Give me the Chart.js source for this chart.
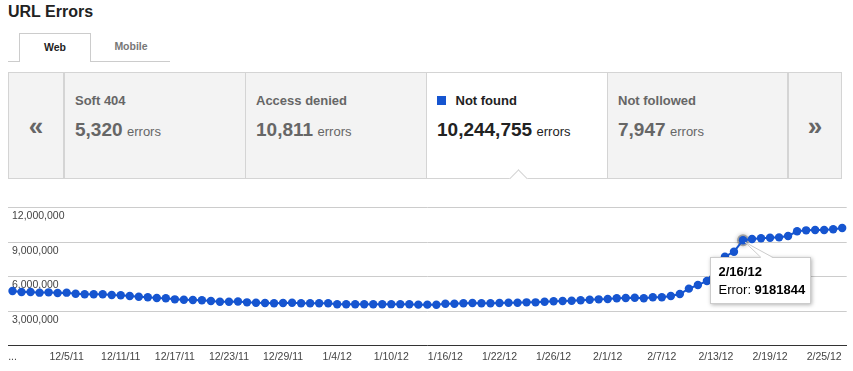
<!DOCTYPE html>
<html>
<head>
<meta charset="utf-8">
<title>URL Errors</title>
<script src="https://cdn.jsdelivr.net/npm/chart.js@4"></script>
<style>
  body { margin: 0; width: 853px; height: 371px; position: relative; overflow: hidden; background: #fff;
         font-family: "Liberation Sans", Arial, sans-serif; }
  h1 { position: absolute; left: 8px; top: 3px; margin: 0; font-size: 16px; line-height: 18px; color: #222; }
  .tabline { position: absolute; left: 8px; top: 61px; width: 162px; border-top: 1px solid #ccc; }
  .tab { position: absolute; top: 33px; height: 28px; line-height: 27px; font-size: 10.5px; font-weight: bold; text-align: center; }
  .tab.web { left: 19px; width: 70px; border: 1px solid #ccc; border-bottom: none; background: #fff; color: #222; z-index: 2; }
  .tab.mobile { left: 96px; width: 70px; color: #777; }
  .panel { position: absolute; left: 8px; top: 72px; width: 834px; height: 107px; box-sizing: border-box;
           border: 1px solid #d4d4d4; background: #f3f3f3; }
  .cell { position: absolute; top: 0; height: 105px; box-sizing: border-box; }
  .cell.card { border-left: 1px solid #d4d4d4; width: 181px; }
  .cell.sel { background: #fff; }
  .arrow { position: absolute; top: 38px; left: 0; width: 100%; text-align: center; font-size: 26px; line-height: 30px;
           font-weight: bold; color: #666; }
  .lbl { position: absolute; left: 10px; top: 20px; font-size: 13px; line-height: 15px; font-weight: bold; color: #666; white-space: nowrap; }
  .num { position: absolute; left: 10px; top: 46px; line-height: 22px; color: #666; white-space: nowrap; }
  .num b { font-size: 19px; }
  .num span { font-size: 13px; }
  .sel .lbl { left: 28.5px; color: #222; }
  .sel .num { color: #222; }
  .swatch { position: absolute; left: 10px; top: 23px; width: 9px; height: 9px; background: #1655d0; }
  .notch { position: absolute; left: 511.5px; top: 172px; width: 13px; height: 13px; box-sizing: border-box;
           border-top: 1px solid #d4d4d4; border-left: 1px solid #d4d4d4; background: #fff; transform: rotate(45deg); z-index: 3; }
  #chartBox { position: absolute; left: 0; top: 195px; width: 853px; height: 176px; }
</style>
</head>
<body>
<h1>URL Errors</h1>
<div class="tabline"></div>
<div class="tab web">Web</div>
<div class="tab mobile">Mobile</div>

<div class="panel">
  <div class="cell" style="left:0;width:55px;border-right:1px solid #d4d4d4;"><div class="arrow">«</div></div>
  <div class="cell card" style="left:55px;">
    <div class="lbl">Soft 404</div>
    <div class="num"><b>5,320</b> <span>errors</span></div>
  </div>
  <div class="cell card" style="left:236px;">
    <div class="lbl">Access denied</div>
    <div class="num"><b>10,811</b> <span>errors</span></div>
  </div>
  <div class="cell card sel" style="left:417px;">
    <div class="swatch"></div>
    <div class="lbl">Not found</div>
    <div class="num"><b>10,244,755</b> <span>errors</span></div>
  </div>
  <div class="cell card" style="left:598px;">
    <div class="lbl">Not followed</div>
    <div class="num"><b>7,947</b> <span>errors</span></div>
  </div>
  <div class="cell card" style="left:778px;width:54px;border-left:2px solid #d4d4d4;"><div class="arrow">»</div></div>
</div>
<div class="notch"></div>

<div id="chartBox"><canvas id="urlErrorsChart"></canvas></div>

<script>
// Not found errors, one point per report day (11/29/11 .. 2/27/12)
const notFound = [
  4770000, 4680000, 4680000, 4620000, 4650000, 4590000, 4620000, 4530000, 4480000, 4480000,
  4480000, 4420000, 4390000, 4330000, 4270000, 4220000, 4160000, 4130000, 4040000, 4010000,
  3980000, 3960000, 3900000, 3830000, 3830000, 3850000, 3780000, 3750000, 3720000, 3700000,
  3720000, 3740000, 3700000, 3700000, 3700000, 3700000, 3610000, 3610000, 3610000, 3610000,
  3610000, 3610000, 3620000, 3620000, 3610000, 3580000, 3580000, 3570000, 3660000, 3660000,
  3700000, 3720000, 3700000, 3700000, 3720000, 3750000, 3750000, 3780000, 3780000, 3830000,
  3870000, 3900000, 3920000, 3960000, 4010000, 4040000, 4070000, 4130000, 4160000, 4180000,
  4130000, 4220000, 4220000, 4330000, 4500000, 4970000, 5290000, 5630000, 6700000, 7750000,
  8180000, 9181844, 9290000, 9350000, 9400000, 9430000, 9550000, 9960000, 10040000, 10070000,
  10070000, 10130000, 10244755
];

// x-axis labels, one every 6 points starting with the first
const tickLabels = ['...', '12/5/11', '12/11/11', '12/17/11', '12/23/11', '12/29/11', '1/4/12',
  '1/10/12', '1/16/12', '1/22/12', '1/26/12', '2/1/12', '2/7/12', '2/13/12', '2/19/12', '2/25/12'];
const tickEvery = 6;

const yMax = 12000000;
const yStep = 3000000;

// highlighted point
const tipIndex = 81;
const tipDate = '2/16/12';
const tipName = 'Error:';

const blue = '#1655d0';
const fontFamily = '"Liberation Sans", Arial, sans-serif';

const categories = notFound.map((v, i) => (i % tickEvery === 0 ? tickLabels[i / tickEvery] : ''));

// halo under the hovered point + callout box on top
const tipPlugin = {
  id: 'tipCallout',
  beforeDatasetsDraw(chart) {
    const p = chart.getDatasetMeta(0).data[tipIndex];
    const ctx = chart.ctx;
    ctx.save();
    ctx.shadowColor = 'rgba(0,0,0,0.45)';
    ctx.shadowBlur = 4;
    ctx.fillStyle = 'rgba(110,110,110,0.55)';
    ctx.beginPath();
    ctx.arc(p.x, p.y, 6, 0, Math.PI * 2);
    ctx.fill();
    ctx.restore();
  },
  afterDraw(chart) {
    const p = chart.getDatasetMeta(0).data[tipIndex];
    const ctx = chart.ctx;
    const bx = Math.round(p.x - 33), by = Math.round(p.y + 17), bw = 101, bh = 47;

    ctx.save();
    ctx.shadowColor = 'rgba(0,0,0,0.3)';
    ctx.shadowBlur = 4;
    ctx.shadowOffsetX = 1;
    ctx.shadowOffsetY = 1;
    ctx.fillStyle = '#fff';
    ctx.fillRect(bx, by, bw, bh);
    ctx.restore();

    ctx.save();
    ctx.strokeStyle = '#ccc';
    ctx.lineWidth = 1;
    ctx.strokeRect(bx + 0.5, by + 0.5, bw - 1, bh - 1);

    // callout pointer
    ctx.fillStyle = '#fff';
    ctx.beginPath();
    ctx.moveTo(p.x + 18, by + 1);
    ctx.lineTo(p.x + 2, p.y + 2);
    ctx.lineTo(p.x + 30, by + 1);
    ctx.closePath();
    ctx.fill();
    ctx.beginPath();
    ctx.moveTo(p.x + 18, by + 0.5);
    ctx.lineTo(p.x + 2, p.y + 2);
    ctx.lineTo(p.x + 30, by + 0.5);
    ctx.stroke();

    ctx.fillStyle = '#000';
    ctx.textBaseline = 'middle';
    ctx.font = 'bold 13px ' + fontFamily;
    ctx.fillText(tipDate, bx + 8.5, by + 15.5);
    ctx.font = '13px ' + fontFamily;
    ctx.fillText(tipName + ' ', bx + 8.5, by + 33);
    const w = ctx.measureText(tipName + ' ').width;
    ctx.font = 'bold 13px ' + fontFamily;
    ctx.fillText(String(notFound[tipIndex]), bx + 8.5 + w, by + 33);
    ctx.restore();
  }
};

Chart.defaults.font.family = fontFamily;

const ctx = document.getElementById('urlErrorsChart').getContext('2d');
new Chart(ctx, {
  type: 'line',
  data: {
    labels: categories,
    datasets: [{
      label: 'Not found',
      data: notFound,
      borderColor: blue,
      borderWidth: 2,
      pointRadius: 4.2,
      pointHoverRadius: 4.2,
      pointBackgroundColor: blue,
      pointBorderWidth: 0,
      tension: 0,
      fill: false
    }]
  },
  options: {
    responsive: true,
    maintainAspectRatio: false,
    animation: false,
    events: [],
    layout: { padding: { left: 0, right: 6.3, top: 12.8, bottom: 2.6 } },
    plugins: {
      legend: { display: false },
      tooltip: { enabled: false }
    },
    scales: {
      x: {
        offset: true,
        grid: { display: false, drawTicks: false },
        border: { display: true, color: '#333', width: 1 },
        ticks: {
          autoSkip: false,
          maxRotation: 0,
          minRotation: 0,
          padding: 5,
          color: '#444',
          font: { size: 10.5 }
        }
      },
      y: {
        min: 0,
        max: yMax,
        grid: { color: '#ccc', drawTicks: false },
        border: { display: false },
        ticks: {
          stepSize: yStep,
          mirror: true,
          padding: 4,
          labelOffset: 8.5,
          color: '#444',
          font: { size: 10.5 },
          callback: (v) => (v === 0 ? '' : v.toLocaleString('en-US'))
        }
      }
    }
  },
  plugins: [tipPlugin]
});
</script>
</body>
</html>
